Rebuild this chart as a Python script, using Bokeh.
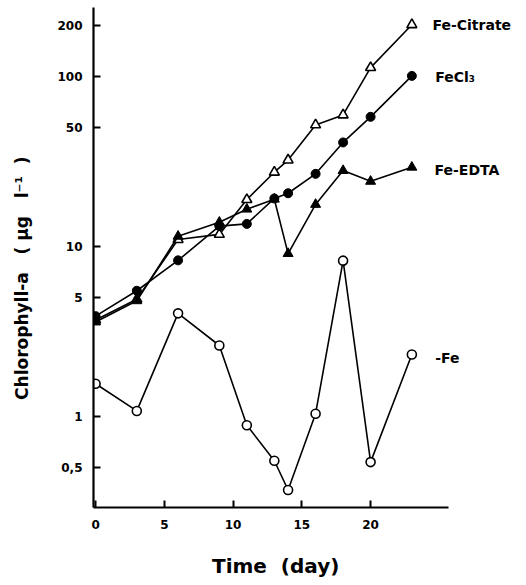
from bokeh.plotting import figure
from bokeh.models import Range1d, FixedTicker, Label
from bokeh.embed import file_html
from bokeh.resources import INLINE

# ---- data ----
days = [0, 3, 6, 9, 11, 13, 14, 16, 18, 20, 23]
fe_citrate = [3.7, 4.9, 11.0, 11.8, 18.9, 27.4, 32.3, 52.0, 59.5, 113.0, 202.0]
fe_cl3 = [3.9, 5.5, 8.3, 13.2, 13.6, 19.2, 20.6, 26.8, 41.0, 58.0, 101.0]
fe_edta = [3.6, 4.8, 11.5, 13.9, 16.6, 19.0, 9.1, 17.7, 28.0, 24.2, 29.3]
no_fe = [1.56, 1.08, 4.05, 2.62, 0.89, 0.55, 0.37, 1.04, 8.27, 0.54, 2.32]

series_names = ["Fe-Citrate", "FeCl\u2083", "Fe-EDTA", "-Fe"]
label_x = [24.5, 24.7, 24.65, 24.7]
label_y = [202.0, 100.0, 28.4, 2.22]

x_ticks = [0, 5, 10, 15, 20]
y_ticks = [0.5, 1, 5, 10, 50, 100, 200]
y_tick_labels = ["0,5", "1", "5", "10", "50", "100", "200"]

FONT = "DejaVu Sans"
NB = "\u00a0"

p = figure(width=526, height=585, y_axis_type="log",
           x_range=Range1d(-0.15, 30.9), y_range=Range1d(0.292, 255),
           output_backend="svg", toolbar_location=None)
p.min_border_left = 93
p.min_border_right = 6
p.min_border_top = 7
p.min_border_bottom = 78
p.outline_line_color = None
p.xgrid.visible = False
p.ygrid.visible = False
p.background_fill_color = "white"
p.border_fill_color = "white"

for ax in (p.xaxis[0], p.yaxis[0]):
    ax.axis_line_width = 2.2
    ax.axis_line_color = "black"
    ax.major_tick_in = 7
    ax.major_tick_out = 0
    ax.major_tick_line_width = 2
    ax.minor_tick_line_color = None
    ax.major_label_text_font = FONT
    ax.major_label_text_font_style = "bold"
    ax.major_label_text_font_size = "12px"
    ax.major_label_text_color = "black"
    ax.axis_label_text_font = FONT
    ax.axis_label_text_font_style = "bold"
    ax.axis_label_text_color = "black"

p.xaxis.bounds = (-0.15, 25.7)
p.xaxis.ticker = FixedTicker(ticks=x_ticks)
p.xaxis.major_label_standoff = 12
p.xaxis.axis_label = "Time" + NB * 2 + "(day)" + NB * 9
p.xaxis.axis_label_text_font_size = "20px"
p.xaxis.axis_label_standoff = 22

p.yaxis.ticker = FixedTicker(ticks=y_ticks)
p.yaxis.major_label_overrides = {t: s for t, s in zip(y_ticks, y_tick_labels)}
p.yaxis.major_label_standoff = 11
p.yaxis.axis_label = ("Chlorophyll-a" + NB * 3 + "(" + NB + "\u00b5g" + NB * 3 +
                      "l\u207b\u00b9" + NB * 2 + ")" + NB * 7)
p.yaxis.axis_label_text_font_size = "17px"
p.yaxis.axis_label_standoff = 22

lw = 1.6
# Fe-Citrate: open triangles
p.line(days, fe_citrate, line_color="black", line_width=lw)
p.scatter(days, fe_citrate, marker="triangle", size=10, fill_color="white",
          line_color="black", line_width=1.6)
# FeCl3: filled circles
p.line(days, fe_cl3, line_color="black", line_width=lw)
p.scatter(days, fe_cl3, marker="circle", size=9, fill_color="black",
          line_color="black")
# Fe-EDTA: filled triangles
p.line(days, fe_edta, line_color="black", line_width=lw)
p.scatter(days, fe_edta, marker="triangle", size=10, fill_color="black",
          line_color="black")
# -Fe: open circles
p.line(days, no_fe, line_color="black", line_width=lw)
p.scatter(days, no_fe, marker="circle", size=9, fill_color="white",
          line_color="black", line_width=1.6)

for name, lx, ly in zip(series_names, label_x, label_y):
    p.add_layout(Label(x=lx, y=ly, text=name, text_font=FONT,
                       text_font_style="bold", text_font_size="14px",
                       text_color="black", text_baseline="middle",
                       text_align="left"))

open("out.html", "w").write(file_html(p, INLINE))
